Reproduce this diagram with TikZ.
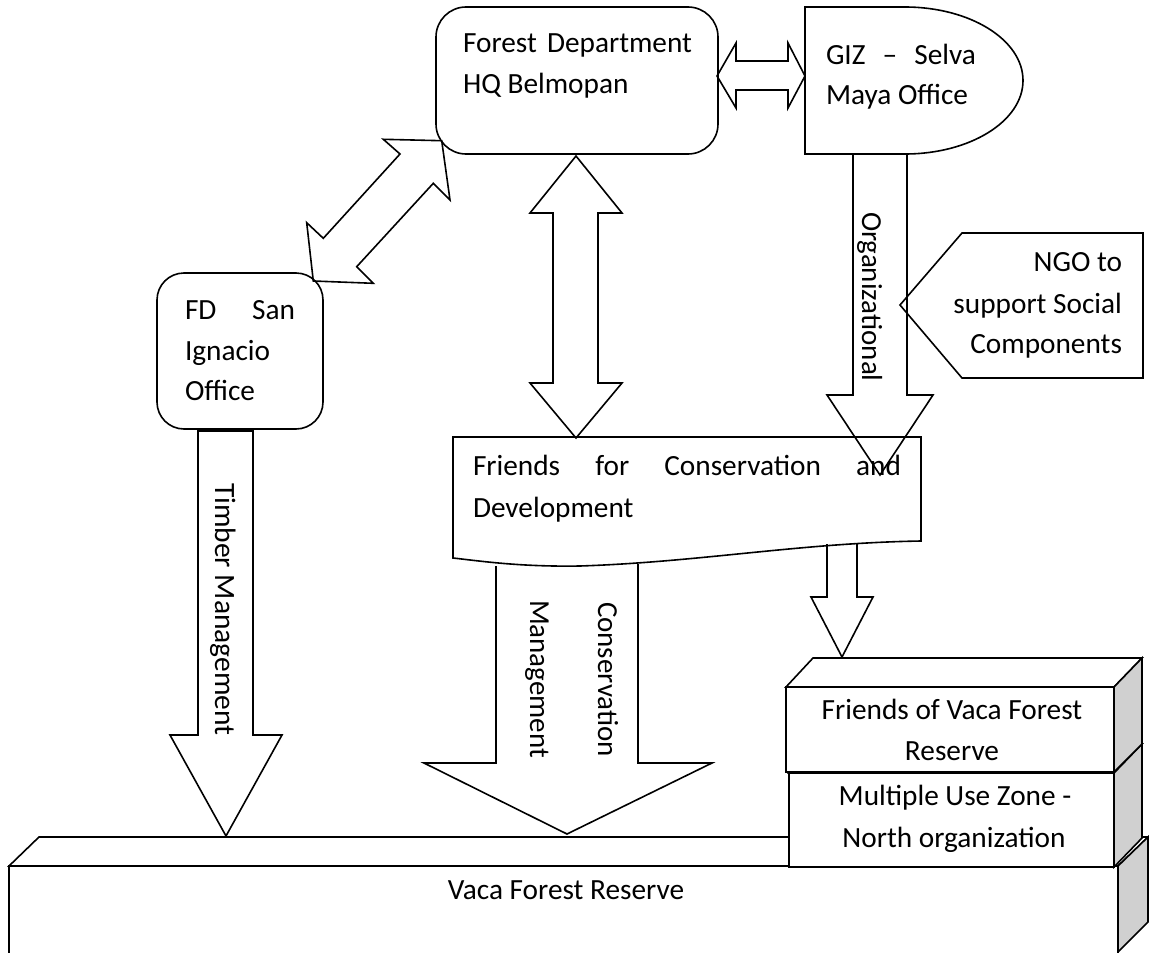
\documentclass[tikz,border=0pt]{standalone}
\usepackage{fontspec}
\setmainfont{Carlito}
\definecolor{sidegray}{RGB}{208,208,208}
\newcommand\dgfont{\fontsize{29.3}{41}\selectfont}
\newcommand\dgvfont{\fontsize{29}{41}\selectfont}
\begin{document}
\begin{tikzpicture}[x=1pt,y=-1pt,
  outl/.style={draw=black,line width=1.6pt,line join=miter},
  txt/.style={inner sep=0pt,outer sep=0pt,font=\dgfont,text=black},
  vtxt/.style={txt,font=\dgvfont,rotate=-90,anchor=base west}]
\useasboundingbox (0,0) rectangle (1149,953);

% ---- bottom bar: Vaca Forest Reserve ----
\fill[white] (9,866) rectangle (1118,953);
\draw[outl,fill=white] (9,866) -- (39,837) -- (1148,837) -- (1118,866) -- cycle;
\draw[outl] (9,954) -- (9,866) -- (1118,866) -- (1118,954);
\draw[outl,fill=sidegray] (1118,866) -- (1148,837) -- (1148,922) -- (1118,952) -- cycle;
\node[txt,anchor=base] (vaca) at (566,899) {Vaca Forest Reserve};

% ---- Multiple Use Zone cube ----
\draw[outl,fill=white] (789,773) -- (818,744) -- (1142,744) -- (1114,773) -- cycle;
\draw[outl,fill=white] (789,773) rectangle (1114,867);
\draw[outl,fill=sidegray] (1114,773) -- (1142,744) -- (1142,838) -- (1114,867) -- cycle;
\node[txt,anchor=base] (muz1) at (955,805) {Multiple Use Zone -};
\node[txt,anchor=base] (muz2) at (954,847) {North organization};

% ---- Friends of Vaca Forest Reserve cube ----
\draw[outl,fill=white] (786,687) -- (813,658) -- (1142,658) -- (1114,687) -- cycle;
\draw[outl,fill=white] (786,687) rectangle (1114,772);
\draw[outl,fill=sidegray] (1114,687) -- (1142,658) -- (1142,744) -- (1114,772) -- cycle;
\node[txt,anchor=base] (fv1) at (952,719) {Friends of Vaca Forest};
\node[txt,anchor=base] (fv2) at (952,760) {Reserve};

% ---- Forest Department HQ ----
\draw[outl,rounded corners=30pt] (436,7) rectangle (718,154);
\node[txt,anchor=base west] (hq1) at (463,52) {\hbox to 229pt{Forest\hfill Department}};
\node[txt,anchor=base west] (hq2) at (463,93) {HQ Belmopan};

% ---- GIZ ----
\draw[outl] (905,7) -- (805,7) -- (805,154) -- (905,154)
  arc[start angle=90,end angle=-90,x radius=118,y radius=73.5] -- cycle;
\node[txt,anchor=base west] (giz1) at (826,64) {\hbox to 150pt{GIZ\hfill –\hfill Selva}};
\node[txt,anchor=base west] (giz2) at (826,104) {Maya Office};

% ---- FD San Ignacio ----
\draw[outl,rounded corners=27pt] (157,273) rectangle (323,429);
\node[txt,anchor=base west] (sig1) at (185,319) {\hbox to 110pt{FD\hfill San}};
\node[txt,anchor=base west] (sig2) at (185,360) {Ignacio};
\node[txt,anchor=base west] (sig3) at (185,400) {Office};

% ---- NGO pentagon ----
\draw[outl] (900,305) -- (962,233) -- (1143,233) -- (1143,378) -- (962,378) -- cycle;
\node[txt,anchor=base east] (ngo1) at (1122,271) {NGO to};
\node[txt,anchor=base east] (ngo2) at (1122,313) {support Social};
\node[txt,anchor=base east] (ngo3) at (1122,353) {Components};

% ---- Friends for Conservation and Development (document) ----
\draw[outl] (453,437) -- (921,437) -- (921,541)
  .. controls (800,543) and (700,562) .. (580,566)
  .. controls (520,567) and (480,561) .. (453,558) -- cycle;
\node[txt,anchor=base west] (fcd1) at (473,475) {\hbox to 428pt{Friends\hfill for\hfill Conservation\hfill and}};
\node[txt,anchor=base west] (fcd2) at (473,517) {Development};

% ---- block arrows ----
% HQ <-> GIZ
\draw[outl] (717,76) -- (736,43) -- (736,61) -- (788,61) -- (788,43) -- (805,76)
  -- (788,108) -- (788,90) -- (736,90) -- (736,108) -- cycle;
% HQ <-> San Ignacio (diagonal)
\draw[outl] (383.3,139.3) -- (441.7,140.7) -- (450,200) -- (433.3,183.3) -- (356.7,266.7)
  -- (373.3,283.3) -- (313.3,281) -- (306.7,222.7) -- (323.3,238.3) -- (400,154) -- cycle;
% HQ <-> FCD (vertical)
\draw[outl] (576,156) -- (622,213) -- (598,213) -- (598,383) -- (622,383) -- (576,438)
  -- (530,383) -- (553,383) -- (553,213) -- (530,213) -- cycle;
% Timber Management
\draw[outl] (198,431) -- (253,431) -- (253,735) -- (282,735) -- (226,836) -- (170,735) -- (198,735) -- cycle;
\node[vtxt,font=\fontsize{29.5}{41}\selectfont] (timber) at (215,483) {Timber Management};
% Conservation Management
\draw[outl] (496,566) -- (496,763) -- (424,763) -- (567,834) -- (712,763) -- (638,763) -- (638,564);
\node[vtxt] (cons) at (598,602) {Conservation};
\node[vtxt] (mgmt) at (530,600) {Management};
% Organizational
\draw[outl] (853,154) -- (853,395) -- (827,395) -- (880,475) -- (933,395) -- (907,395) -- (907,154);
\node[vtxt] (org) at (862,212) {Organizational};
% FCD -> Friends of Vaca
\draw[outl] (827,544) -- (827,597) -- (811,597) -- (842,657) -- (873,597) -- (857,597) -- (857,543);
\end{tikzpicture}
\end{document}
